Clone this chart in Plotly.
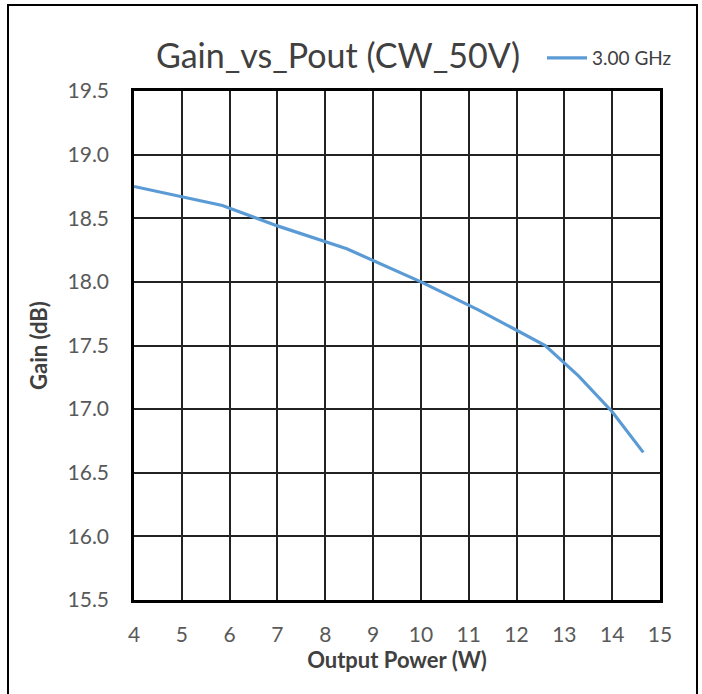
import plotly.graph_objects as go

pout_w = [4.0, 5.85, 7.0, 8.45, 10.0, 11.2, 12.6, 13.3, 14.0, 14.65]
gain_db = [18.75, 18.60, 18.44, 18.26, 18.00, 17.78, 17.50, 17.26, 16.98, 16.66]
series_name = "3.00 GHz"
title_text = "Gain_vs_Pout (CW_50V)"
x_title = "Output Power (W)"
y_title = "Gain (dB)"

fig = go.Figure()
fig.add_trace(go.Scatter(x=pout_w, y=gain_db, mode="lines", name=series_name,
                         line=dict(color="#5B9BD5", width=3.2)))

L, R, T, B = 134, 42, 91, 94
W, H = 702, 694
pw, ph = W - L - R, H - T - B

def px_x(p):
    return (p - L) / pw

def px_y(p):
    return (H - B - p) / ph

fig.update_layout(
    width=W, height=H,
    margin=dict(l=L, r=R, t=T, b=B),
    paper_bgcolor="white", plot_bgcolor="white",
    font=dict(family="Lato, Open Sans, sans-serif", color="#595959"),
    title=dict(text=title_text, xref="container", x=338 / W, xanchor="center",
               yref="container", y=1 - 56 / H, yanchor="middle",
               font=dict(size=34, color="#404040", family="Lato, sans-serif")),
    showlegend=True,
    legend=dict(x=px_x(542), y=px_y(58), xanchor="left", yanchor="middle",
                bgcolor="rgba(0,0,0,0)", font=dict(size=19, color="#404040"),
                itemwidth=40),
    xaxis=dict(range=[4, 15], dtick=1, tick0=4, showgrid=True, gridcolor="#222222",
               gridwidth=1.5, showline=True, linecolor="black", linewidth=2.5,
               mirror=True, ticks="", zeroline=False, ticklabelstandoff=14,
               tickfont=dict(size=21, color="#595959"),
               title=dict(text="<b>" + x_title + "</b>", font=dict(size=22, color="#404040"),
                          standoff=8)),
    yaxis=dict(range=[15.5, 19.5], dtick=0.5, tick0=15.5, tickformat=".1f",
               showgrid=True, gridcolor="#222222", gridwidth=1.5,
               showline=True, linecolor="black", linewidth=2.5, mirror=True,
               ticks="", zeroline=False, ticklabelstandoff=18,
               tickfont=dict(size=21, color="#595959"),
               title=dict(text="<b>" + y_title + "</b>", font=dict(size=22, color="#404040"),
                          standoff=14)),
    shapes=[dict(type="rect", xref="paper", yref="paper",
                 x0=px_x(8), x1=px_x(697), y0=px_y(740), y1=px_y(5),
                 line=dict(color="black", width=2), fillcolor="rgba(0,0,0,0)", layer="below")],
)

fig.write_html("out.html", config={"displayModeBar": False},
               post_script="document.body.style.margin='0';document.body.style.overflow='hidden';")
